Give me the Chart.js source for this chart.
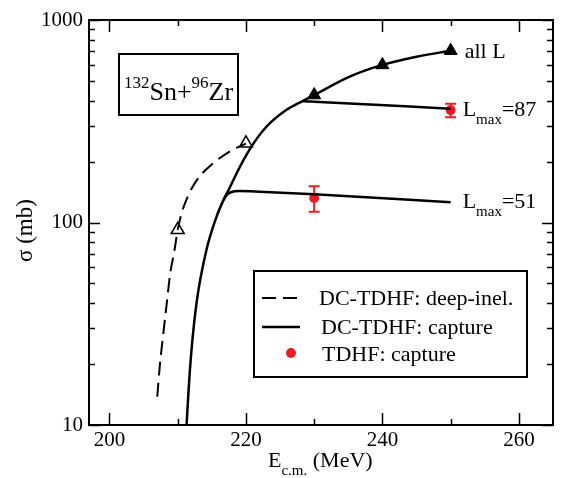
<!DOCTYPE html>
<html>
<head>
<meta charset="utf-8">
<script src="https://cdn.jsdelivr.net/npm/chart.js@4"></script>
<style>
  html, body { margin: 0; padding: 0; background: #fff; }
  #wrap { width: 564px; height: 478px; }
</style>
</head>
<body>
<div id="wrap"><canvas id="chart" width="564" height="478"></canvas></div>
<script>
// DC-TDHF deep-inelastic (dashed)
const dashX = [207.0, 207.4, 207.9, 208.4, 208.9, 209.5, 210.0, 210.6, 211.5, 212.8, 215.2, 217.6, 220.0];
const dashY = [13.8, 20, 28.5, 40, 56, 72, 92, 112, 135, 162, 196, 224, 245];

// DC-TDHF capture, all L (solid)
const allLX = [211.3, 211.6, 212.0, 212.8, 214.2, 215.7, 216.7, 217.6, 219.1, 220.8, 223.0, 225.9, 228.3, 230.0, 235.2, 240.0, 245.0, 250.0];
const allLY = [10, 15, 23, 41, 73, 107, 129, 148, 188, 237, 297, 359, 398, 426, 525, 600, 659, 705];

// capture with L cut-off
const l51X = [216.7, 217.2, 217.8, 219.0, 222.0, 230.0, 250.0];
const l51Y = [129, 137, 141, 143, 142, 138, 126];
const l87X = [228.3, 229.2, 230.0, 250.0];
const l87Y = [398, 396, 395, 365];

// triangle markers
const openTriX = [210, 220];
const openTriY = [92, 246];
const fullTriX = [230, 240, 250];
const fullTriY = [426, 600, 705];

// TDHF capture with error bars
const tdhfX = [230, 250];
const tdhfY = [132, 359];
const tdhfLo = [113, 331];
const tdhfHi = [151, 386];

// ticks
const xTicks = [200, 210, 220, 230, 240, 250, 260];
const xLabels = [200, 220, 240, 260];
const yTicks = [10, 20, 30, 40, 50, 60, 70, 80, 90, 100, 200, 300, 400, 500, 600, 700, 800, 900, 1000];
const yLabels = [10, 100, 1000];

const RED = '#ed1c24';
const SERIF = '"Liberation Serif", "Times New Roman", serif';
const DASH = [14, 7];

function pts(xs, ys) {
    return xs.map((x, i) => ({ x: x, y: ys[i] }));
}

// text with sub/superscript parts: [text, size, dy]
function drawRich(ctx, x, y, parts) {
    let cx = x;
    parts.forEach(p => {
        ctx.font = p[1] + 'px ' + SERIF;
        ctx.fillText(p[0], cx, y + (p[2] || 0));
        cx += ctx.measureText(p[0]).width;
    });
}

const decorPlugin = {
    id: 'decor',
    beforeDatasetsDraw(chart) {
        const ctx = chart.ctx;
        const xs = chart.scales.x, ys = chart.scales.y;
        // error bars
        ctx.save();
        ctx.strokeStyle = RED;
        ctx.lineWidth = 2;
        tdhfX.forEach((v, i) => {
            const px = xs.getPixelForValue(v);
            const lo = ys.getPixelForValue(tdhfLo[i]);
            const hi = ys.getPixelForValue(tdhfHi[i]);
            ctx.beginPath();
            ctx.moveTo(px, lo); ctx.lineTo(px, hi);
            ctx.moveTo(px - 5.5, lo); ctx.lineTo(px + 5.5, lo);
            ctx.moveTo(px - 5.5, hi); ctx.lineTo(px + 5.5, hi);
            ctx.stroke();
        });
        ctx.restore();
    },
    afterDraw(chart) {
        const ctx = chart.ctx;
        const a = chart.chartArea;
        const xs = chart.scales.x, ys = chart.scales.y;
        ctx.save();
        ctx.strokeStyle = '#000';
        ctx.fillStyle = '#000';

        // ticks on all four sides, pointing inward
        ctx.lineWidth = 1.5;
        ctx.beginPath();
        xTicks.forEach(v => {
            const px = Math.round(xs.getPixelForValue(v)) + 0.5;
            const len = v % 20 === 0 ? 12 : 6;
            ctx.moveTo(px, a.bottom); ctx.lineTo(px, a.bottom - len);
            ctx.moveTo(px, a.top); ctx.lineTo(px, a.top + len);
        });
        yTicks.forEach(v => {
            const py = Math.round(ys.getPixelForValue(v)) + 0.5;
            const len = yLabels.includes(v) ? 11 : 6;
            ctx.moveTo(a.left, py); ctx.lineTo(a.left + len, py);
            ctx.moveTo(a.right, py); ctx.lineTo(a.right - len, py);
        });
        ctx.stroke();

        // frame
        ctx.lineWidth = 2;
        ctx.strokeRect(a.left, a.top, a.right - a.left, a.bottom - a.top);

        // axis titles
        ctx.textBaseline = 'alphabetic';
        ctx.textAlign = 'left';
        drawRich(ctx, 268, 467, [['E', 22], ['c.m.', 15, 8], [' (MeV)', 22]]);
        ctx.save();
        ctx.translate(32, 262);
        ctx.rotate(-Math.PI / 2);
        ctx.font = '23px ' + SERIF;
        ctx.fillText('\u03c3 (mb)', 0, 0);
        ctx.restore();

        // reaction box
        ctx.lineWidth = 2;
        ctx.strokeRect(119, 54, 119, 61);
        drawRich(ctx, 124, 100, [['132', 17, -12], ['Sn+', 26], ['96', 17, -12], ['Zr', 26]]);

        // curve labels
        const xr = xs.getPixelForValue(250) + 14;
        drawRich(ctx, xr, ys.getPixelForValue(705) + 7, [['all L', 22]]);
        drawRich(ctx, xr - 2, ys.getPixelForValue(365) + 7, [['L', 22], ['max', 15, 8], ['=87', 22]]);
        drawRich(ctx, xr - 2, ys.getPixelForValue(126) + 6, [['L', 22], ['max', 15, 8], ['=51', 22]]);

        // legend
        ctx.lineWidth = 2;
        ctx.strokeRect(254, 271, 273, 106);
        ctx.beginPath();
        ctx.setLineDash(DASH);
        ctx.moveTo(262, 298); ctx.lineTo(299, 298);
        ctx.stroke();
        ctx.setLineDash([]);
        ctx.lineWidth = 2.5;
        ctx.beginPath();
        ctx.moveTo(262, 327); ctx.lineTo(300, 327);
        ctx.stroke();
        ctx.fillStyle = RED;
        ctx.beginPath();
        ctx.arc(291, 353, 5, 0, Math.PI * 2);
        ctx.fill();
        ctx.fillStyle = '#000';
        ctx.font = '22px ' + SERIF;
        ctx.fillText('DC-TDHF: deep-inel.', 319, 305);
        ctx.fillText('DC-TDHF: capture', 321, 334);
        ctx.fillText('TDHF: capture', 322, 361);
        ctx.restore();
    }
};

const curveBase = {
    showLine: true,
    pointRadius: 0,
    borderColor: '#000',
    fill: false,
    cubicInterpolationMode: 'monotone'
};

new Chart(document.getElementById('chart').getContext('2d'), {
    type: 'scatter',
    data: {
        datasets: [
            Object.assign({ label: 'DC-TDHF: deep-inel.', data: pts(dashX, dashY), borderWidth: 2, borderDash: DASH }, curveBase),
            Object.assign({ label: 'all L', data: pts(allLX, allLY), borderWidth: 2.5 }, curveBase),
            Object.assign({ label: 'Lmax=51', data: pts(l51X, l51Y), borderWidth: 2.5 }, curveBase),
            Object.assign({ label: 'Lmax=87', data: pts(l87X, l87Y), borderWidth: 2.5 }, curveBase),
            {
                label: 'open', data: pts(openTriX, openTriY),
                pointStyle: 'triangle', pointRadius: 7.5,
                backgroundColor: '#fff', borderColor: '#000', borderWidth: 1.5
            },
            {
                label: 'full', data: pts(fullTriX, fullTriY),
                pointStyle: 'triangle', pointRadius: 7.5,
                backgroundColor: '#000', borderColor: '#000', borderWidth: 1
            },
            {
                label: 'TDHF: capture', data: pts(tdhfX, tdhfY),
                pointStyle: 'circle', pointRadius: 5,
                backgroundColor: RED, borderColor: RED, borderWidth: 0
            }
        ]
    },
    options: {
        responsive: false,
        animation: false,
        events: [],
        layout: { padding: { top: 20, right: 11, left: 0, bottom: 0 } },
        plugins: {
            legend: { display: false },
            tooltip: { enabled: false }
        },
        scales: {
            x: {
                type: 'linear',
                min: 197,
                max: 265,
                border: { display: false },
                grid: { display: false, drawTicks: false },
                afterBuildTicks: s => { s.ticks = xTicks.map(v => ({ value: v })); },
                afterFit: s => { s.height = 53; },
                ticks: {
                    autoSkip: false,
                    maxRotation: 0,
                    padding: 3,
                    color: '#000',
                    font: { family: SERIF, size: 21 },
                    callback: v => xLabels.includes(v) ? String(v) : ''
                }
            },
            y: {
                type: 'logarithmic',
                min: 10,
                max: 1000,
                border: { display: false },
                grid: { display: false, drawTicks: false },
                afterBuildTicks: s => { s.ticks = yTicks.map(v => ({ value: v })); },
                afterFit: s => { s.width = 89; },
                ticks: {
                    autoSkip: false,
                    padding: 6,
                    color: '#000',
                    font: { family: SERIF, size: 21 },
                    callback: v => yLabels.includes(v) ? String(v) : ''
                }
            }
        }
    },
    plugins: [decorPlugin]
});
</script>
</body>
</html>
